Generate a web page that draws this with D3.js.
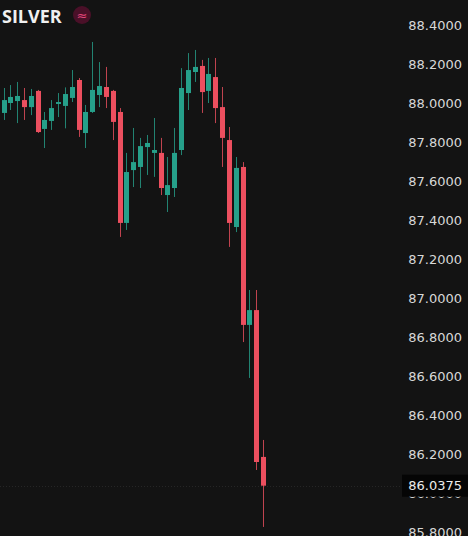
<!DOCTYPE html>
<meta charset="utf-8">
<html>
<style>
  html, body { margin:0; padding:0; background:#131313; }
  svg { display:block; }
</style>
<script src="https://d3js.org/d3.v7.min.js"></script>
<body>
<svg id="chart" width="468" height="536"></svg>
<script>

// candle data (oldest first)
var opens  = [87.949, 88.000, 88.010, 88.015, 87.979, 88.062, 87.867, 87.908, 87.995, 87.985,
              88.026, 88.118, 87.846, 87.954, 88.041, 88.082, 88.062, 87.954, 87.385, 87.656,
              87.672, 87.774, 87.744, 87.744, 87.528, 87.564, 87.759, 88.051, 88.159, 88.190,
              88.062, 88.133, 87.979, 87.810, 87.364, 87.672, 86.862, 86.938, 86.185];
var highs  = [88.077, 88.092, 88.108, 88.077, 88.072, 88.067, 87.954, 88.015, 88.051, 88.080,
              88.169, 88.128, 87.990, 88.313, 88.210, 88.185, 88.067, 87.974, 87.744, 87.872,
              87.821, 87.836, 87.923, 87.821, 87.723, 87.872, 88.179, 88.256, 88.272, 88.221,
              88.231, 88.231, 88.082, 87.877, 87.723, 87.697, 87.041, 87.041, 86.272];
var lows   = [87.913, 87.964, 87.897, 87.913, 87.938, 87.846, 87.769, 87.862, 87.928, 87.870,
              88.005, 87.826, 87.769, 87.949, 87.979, 87.974, 87.810, 87.313, 87.349, 87.569,
              87.564, 87.631, 87.621, 87.528, 87.441, 87.518, 87.733, 87.964, 88.108, 87.949,
              88.000, 87.897, 87.672, 87.262, 87.338, 86.774, 86.590, 86.118, 85.826];
var closes = [88.015, 88.031, 88.036, 87.979, 88.036, 87.851, 87.913, 87.974, 88.005, 88.046,
              88.082, 87.862, 87.954, 88.067, 88.087, 88.031, 87.903, 87.385, 87.646, 87.697,
              87.779, 87.795, 87.759, 87.564, 87.579, 87.744, 88.077, 88.169, 88.185, 88.056,
              88.149, 87.974, 87.821, 87.385, 87.667, 86.862, 86.938, 86.159, 86.0375];

var priceTicks = [88.4, 88.2, 88.0, 87.8, 87.6, 87.4, 87.2, 87.0, 86.8, 86.6, 86.4, 86.2, 86.0, 85.8];
var lastPrice = 86.0375;
var symbol = "SILVER";

var upColor = "#26a08a", downColor = "#ec4f5f";

var svg = d3.select("#chart");
var W = 468, H = 536;

svg.append("rect").attr("width", W).attr("height", H).attr("fill", "#131313");

var candles = opens.map(function(o, i) {
  return {i: i, o: o, h: highs[i], l: lows[i], c: closes[i]};
});

// scales
var x = d3.scaleLinear().domain([0, candles.length - 1]).range([3.5, 263]);
var y = d3.scaleLinear().domain([88.4, 85.8]).range([25, 532]);
var bodyW = 5;

// price line
svg.append("line")
  .attr("x1", 0).attr("x2", 400)
  .attr("y1", Math.round(y(lastPrice)) + 0.5).attr("y2", Math.round(y(lastPrice)) + 0.5)
  .attr("stroke", "#262626").attr("stroke-dasharray", "1,2");

var g = svg.append("g");

var cg = g.selectAll("g.candle")
  .data(candles)
  .enter().append("g")
  .attr("class", "candle");

// wicks
cg.append("line")
  .attr("x1", d => Math.round(x(d.i)) + 0.5)
  .attr("x2", d => Math.round(x(d.i)) + 0.5)
  .attr("y1", d => y(d.h))
  .attr("y2", d => y(d.l))
  .attr("stroke", d => d.c >= d.o ? upColor : downColor)
  .attr("stroke-width", 1)
  .attr("opacity", 0.8);

// bodies
cg.append("rect")
  .attr("x", d => Math.round(x(d.i)) + 0.5 - bodyW / 2)
  .attr("y", d => y(Math.max(d.o, d.c)))
  .attr("width", bodyW)
  .attr("height", d => Math.max(1, Math.abs(y(d.o) - y(d.c))))
  .attr("fill", d => d.c >= d.o ? upColor : downColor);

// right price axis
var axisG = svg.append("g");
axisG.selectAll("text")
  .data(priceTicks)
  .enter().append("text")
  .attr("x", 462)
  .attr("y", d => y(d))
  .attr("dy", "0.36em")
  .attr("text-anchor", "end")
  .attr("font-family", "DejaVu Sans, sans-serif")
  .attr("font-size", 13)
  .attr("fill", "#d8d8d8")
  .text(d => d.toFixed(4));

// last price label
var ly = y(lastPrice);
svg.append("rect")
  .attr("x", 402).attr("y", ly - 11)
  .attr("width", 66).attr("height", 22)
  .attr("fill", "#050505");
svg.append("text")
  .attr("x", 462).attr("y", ly)
  .attr("dy", "0.36em")
  .attr("text-anchor", "end")
  .attr("font-family", "DejaVu Sans, sans-serif")
  .attr("font-size", 13)
  .attr("fill", "#ececec")
  .text(lastPrice.toFixed(4));

// title
svg.append("text")
  .attr("x", 2).attr("y", 23)
  .attr("font-family", "Open Sans, sans-serif")
  .attr("font-weight", 700)
  .attr("font-size", 18)
  .attr("fill", "#f0f0f0")
  .text(symbol);

svg.append("circle")
  .attr("cx", 82).attr("cy", 15).attr("r", 9)
  .attr("fill", "#4a1028");
svg.append("text")
  .attr("x", 82).attr("y", 15)
  .attr("dy", "0.35em")
  .attr("text-anchor", "middle")
  .attr("font-family", "DejaVu Sans, sans-serif")
  .attr("font-size", 13)
  .attr("fill", "#e0457a")
  .text("\u2248");

</script>
</body>
</html>
